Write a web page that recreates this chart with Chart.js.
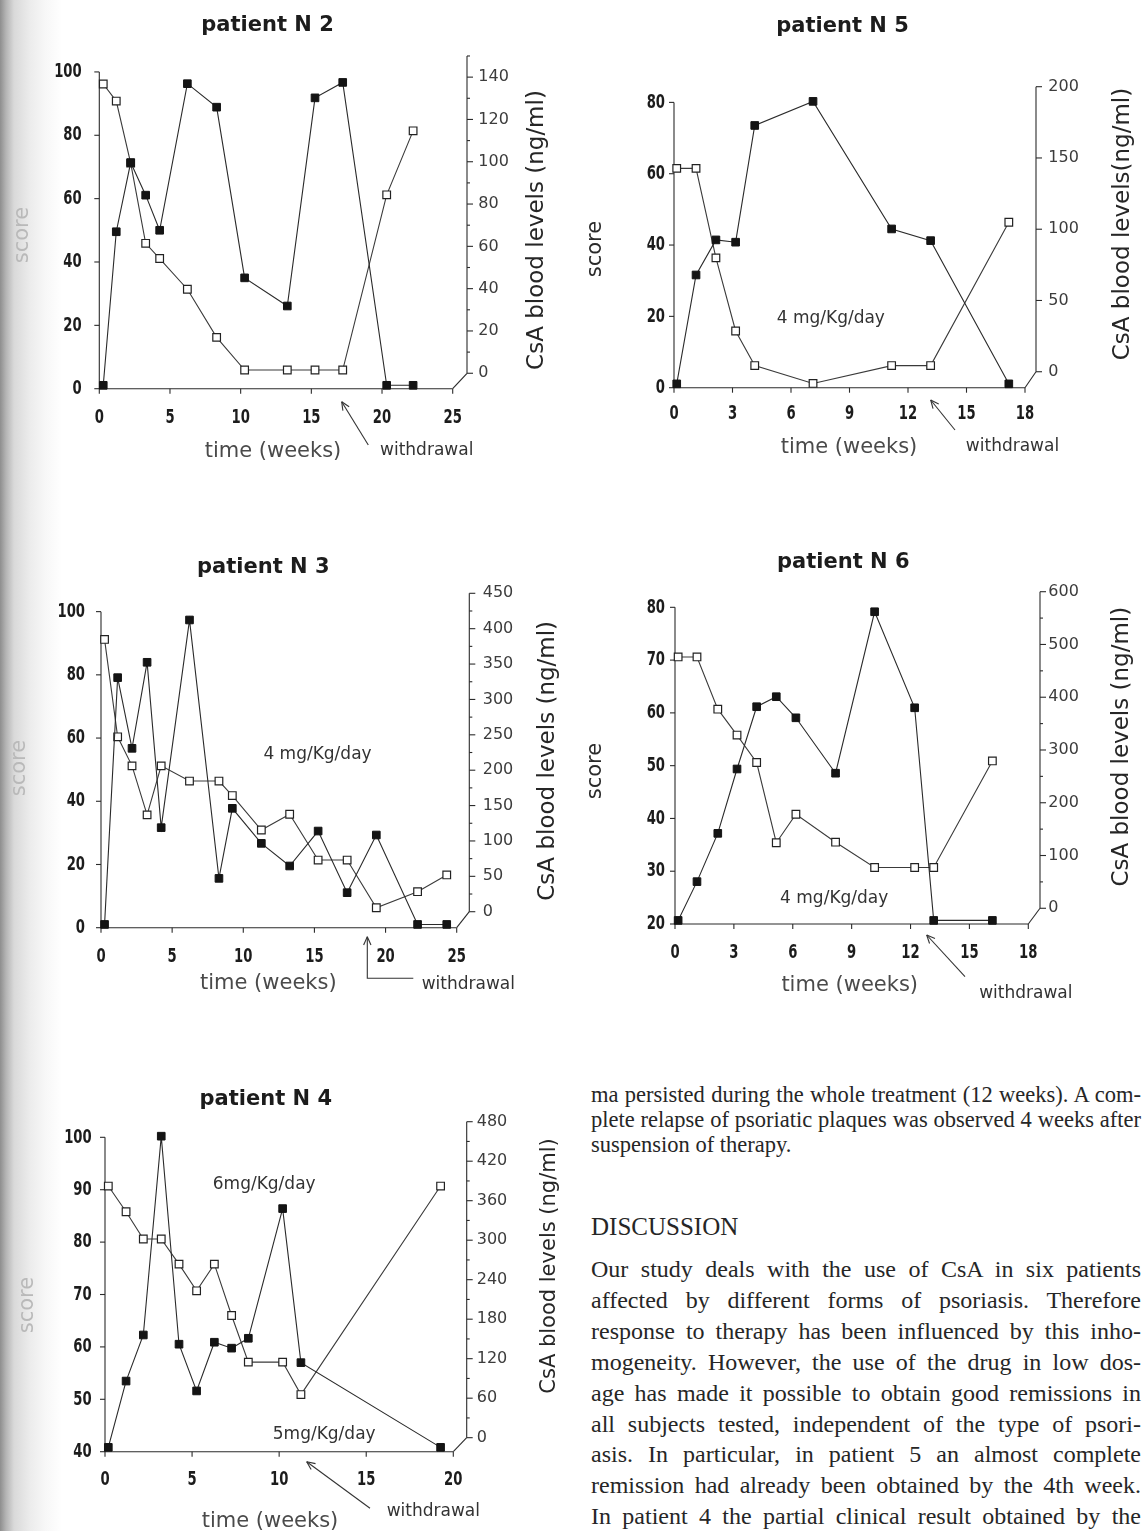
<!DOCTYPE html>
<html>
<head>
<meta charset="utf-8" />
<script src="https://cdn.jsdelivr.net/npm/chart.js@4.4.1/dist/chart.umd.min.js"></script>
<style>
body { margin: 0; width: 1146px; height: 1531px; background: #fff; position: relative; overflow: hidden; }
.shade { position: absolute; left: 0; top: 0; width: 62px; height: 1531px;
  background: linear-gradient(to right, #8e8e8e 0px, #b4b4b4 6px, #d9d9d9 14px, #ececec 30px, #f7f7f7 45px, #fff 62px); }
canvas { position: absolute; }
.txt { position: absolute; left: 591px; width: 550px; font-family: 'Liberation Serif', 'Times New Roman', serif; color: #262626; }
.txt div { white-space: nowrap; }
.j { text-align: justify; text-align-last: justify; white-space: normal !important; }
</style>
</head>
<body>
<div class="shade"></div>
<canvas id="n2" width="580" height="470" style="left:0;top:0"></canvas>
<canvas id="n5" width="571" height="470" style="left:575px;top:0"></canvas>
<canvas id="n3" width="580" height="470" style="left:0;top:540px"></canvas>
<canvas id="n6" width="571" height="470" style="left:575px;top:540px"></canvas>
<canvas id="n4" width="580" height="461" style="left:0;top:1070px"></canvas>

<div class="txt" style="top:1082px; font-size:22.5px; line-height:25px">
	<div class="j">ma persisted during the whole treatment (12 weeks). A com-</div>
	<div class="j">plete relapse of psoriatic plaques was observed 4 weeks after</div>
	<div>suspension of therapy.</div>
</div>
<div class="txt" style="top:1212px; font-size:25px; line-height:30px">DISCUSSION</div>
<div class="txt" style="top:1254px; font-size:24px; line-height:30.9px">
	<div class="j">Our study deals with the use of CsA in six patients</div>
	<div class="j">affected by different forms of psoriasis. Therefore</div>
	<div class="j">response to therapy has been influenced by this inho-</div>
	<div class="j">mogeneity. However, the use of the drug in low dos-</div>
	<div class="j">age has made it possible to obtain good remissions in</div>
	<div class="j">all subjects tested, independent of the type of psori-</div>
	<div class="j">asis. In particular, in patient 5 an almost complete</div>
	<div class="j">remission had already been obtained by the 4th week.</div>
	<div class="j">In patient 4 the partial clinical result obtained by the</div>
</div>

<script>
// patient N 2
const n2Weeks = [0.28, 1.2, 2.22, 3.28, 4.27, 6.23, 8.3, 10.28, 13.3, 15.26, 17.22, 20.33, 22.2];
const n2Score = [96.2, 90.8, 71.2, 45.9, 41.1, 31.4, 16.2, 5.9, 5.9, 5.9, 5.9, 61.2, 81.4];
const n2CsA = [-5.7, 66.9, 99.6, 84.2, 67.6, 136.9, 125.8, 45.1, 31.8, 130.2, 137.5, -5.7, -5.7];
const n2WeekTicks = [0, 5, 10, 15, 20, 25];
const n2ScoreTicks = [0, 20, 40, 60, 80, 100];
const n2CsATicks = [0, 20, 40, 60, 80, 100, 120, 140];
const n2CsAMinor = [10, 30, 50, 70, 90, 110, 130, 150];

// patient N 5
const n5Weeks = [0.14, 1.13, 2.15, 3.16, 4.14, 7.13, 11.16, 13.16, 17.17];
const n5Score = [61.5, 61.5, 36.4, 15.9, 6.2, 1.2, 6.2, 6.2, 46.4];
const n5CsA = [-8.5, 67.9, 92.5, 90.9, 172.8, 189.7, 100.2, 92, -8.5];
const n5WeekTicks = [0, 3, 6, 9, 12, 15, 18];
const n5ScoreTicks = [0, 20, 40, 60, 80];
const n5CsATicks = [0, 50, 100, 150, 200];
const n5CsAMinor = [];

// patient N 3
const n3Weeks = [0.25, 1.17, 2.18, 3.24, 4.23, 6.22, 8.29, 9.23, 11.27, 13.26, 15.26, 17.3, 19.35, 22.25, 24.3];
const n3Score = [91.2, 60.4, 51.2, 35.7, 51.2, 46.4, 46.4, 41.8, 30.9, 35.9, 21.4, 21.4, 6.3, 11.4, 16.7];
const n3CsA = [-18, 330.8, 230.9, 352.5, 118.8, 412.3, 47.1, 146.1, 96.6, 64.6, 114, 26.9, 108.4, -18, -18];
const n3WeekTicks = [0, 5, 10, 15, 20, 25];
const n3ScoreTicks = [0, 20, 40, 60, 80, 100];
const n3CsATicks = [0, 50, 100, 150, 200, 250, 300, 350, 400, 450];
const n3CsAMinor = [25, 75, 125, 175, 225, 275, 325, 375, 425];

// patient N 6
const n6Weeks = [0.16, 1.12, 2.18, 3.16, 4.16, 5.16, 6.16, 8.18, 10.17, 12.21, 13.18, 16.17];
const n6Score = [70.6, 70.6, 60.7, 55.8, 50.6, 35.4, 40.8, 35.5, 30.7, 30.7, 30.7, 50.9];
const n6CsA = [-23, 50.5, 142, 264, 382, 401, 361, 256, 562, 380, -23, -23];
const n6WeekTicks = [0, 3, 6, 9, 12, 15, 18];
const n6ScoreTicks = [20, 30, 40, 50, 60, 70, 80];
const n6CsATicks = [0, 100, 200, 300, 400, 500, 600];
const n6CsAMinor = [50, 150, 250, 350, 450, 550];

// patient N 4
const n4Weeks = [0.19, 1.21, 2.2, 3.23, 4.25, 5.26, 6.28, 7.27, 8.23, 10.2, 11.25, 19.27];
const n4Score = [90.7, 85.8, 80.6, 80.6, 75.8, 70.7, 75.8, 66, 57.1, 57.1, 50.9, 90.7];
const n4CsA = [-14.7, 86, 156, 458, 142, 71, 145, 136, 151, 348, 114, -14.7];
const n4WeekTicks = [0, 5, 10, 15, 20];
const n4ScoreTicks = [40, 50, 60, 70, 80, 90, 100];
const n4CsATicks = [0, 60, 120, 180, 240, 300, 360, 420, 480];
const n4CsAMinor = [30, 90, 150, 210, 270, 330, 390, 450];

const thinTick = { family: "'DejaVu Sans', sans-serif", size: 16 };

function seg(ctx, x1, y1, x2, y2) {
	ctx.beginPath(); ctx.moveTo(x1, y1); ctx.lineTo(x2, y2); ctx.stroke();
}

function arrow(ctx, pts) {
	ctx.beginPath();
	ctx.moveTo(pts[0][0], pts[0][1]);
	pts.slice(1).forEach(p => ctx.lineTo(p[0], p[1]));
	ctx.stroke();
	const [tx, ty] = pts[pts.length - 1], [px, py] = pts[pts.length - 2];
	const ang = Math.atan2(ty - py, tx - px);
	for (const s of [-1, 1]) {
		seg(ctx, tx, ty, tx - 9 * Math.cos(ang + s * 0.42), ty - 9 * Math.sin(ang + s * 0.42));
	}
}

function vtext(ctx, txt, x, y) {
	ctx.save();
	ctx.translate(x, y);
	ctx.rotate(-Math.PI / 2);
	ctx.textAlign = 'center';
	ctx.textBaseline = 'middle';
	ctx.fillText(txt, 0, 0);
	ctx.restore();
}

// narrow bold numbers, like the old plotter font
function narrowNum(ctx, txt, x, y) {
	ctx.save();
	ctx.translate(x, y);
	ctx.scale(0.66, 1);
	ctx.fillText(txt, 0, 0);
	ctx.restore();
}

function paperArt(t, L) {
	return {
		id: 'paperArt',
		beforeDatasetsDraw(chart) {
			const {ctx, chartArea: a} = chart;
			const {x, y, y2} = chart.scales;
			const b = a.bottom;
			ctx.save();
			ctx.strokeStyle = '#2b2b2b';
			ctx.lineWidth = 1.1;
			seg(ctx, a.left, b, a.right, b);
			t.weekTicks.forEach(v => { const px = x.getPixelForValue(v); seg(ctx, px, b, px, b + 5); });
			seg(ctx, a.left, b, a.left, y.getPixelForValue(t.scoreTicks[t.scoreTicks.length - 1]));
			t.scoreTicks.forEach(v => { const py = y.getPixelForValue(v); seg(ctx, a.left - 5, py, a.left, py); });
			const rx = a.right + L.rightGap;
			const r0 = y2.getPixelForValue(0);
			seg(ctx, rx, r0, rx, y2.getPixelForValue(L.csaTop));
			seg(ctx, rx, r0, a.right, b);
			t.csaTicks.forEach(v => { const py = y2.getPixelForValue(v); seg(ctx, rx, py, rx + 6, py); });
			t.csaMinor.forEach(v => { const py = y2.getPixelForValue(v); seg(ctx, rx, py, rx + 3, py); });
			ctx.restore();
		},
		afterDraw(chart) {
			const {ctx, chartArea: a} = chart;
			const {x, y} = chart.scales;
			ctx.save();
			ctx.fillStyle = '#1c1c1c';
			ctx.font = "bold 20px 'DejaVu Sans'";
			ctx.textBaseline = 'middle';
			ctx.textAlign = 'right';
			t.scoreTicks.forEach(v => narrowNum(ctx, String(v), a.left - L.leftPad, y.getPixelForValue(v)));
			ctx.textAlign = 'center';
			t.weekTicks.forEach(v => narrowNum(ctx, String(v), x.getPixelForValue(v), a.bottom + L.xLabOff));

			ctx.font = "bold 21px 'DejaVu Sans'";
			ctx.textBaseline = 'alphabetic';
			ctx.fillText(L.title, L.titleX, L.titleY);

			ctx.textBaseline = 'middle';
			ctx.font = "21px 'DejaVu Sans'";
			ctx.fillStyle = '#4a4a4a';
			ctx.fillText('time (weeks)', L.timeX, L.timeY);

			ctx.font = "17px 'DejaVu Sans'";
			ctx.fillStyle = '#333';
			ctx.fillText('withdrawal', L.wdX, L.wdY);
			L.doses.forEach(d => ctx.fillText(d.text, d.x, d.y));

			ctx.font = "21px 'DejaVu Sans'";
			ctx.fillStyle = L.scoreFaded ? '#b9b9b9' : '#2a2a2a';
			vtext(ctx, 'score', L.scoreX, L.scoreY);

			ctx.font = L.csaSize + "px 'DejaVu Sans'";
			ctx.fillStyle = '#262626';
			vtext(ctx, L.csaText, L.csaX, L.csaY);

			ctx.strokeStyle = '#333';
			ctx.lineWidth = 1.1;
			arrow(ctx, L.arrow);
			ctx.restore();
		}
	};
}

function drawPatient(id, t, L) {
	const pts = vals => t.weeks.map((w, i) => ({x: w, y: vals[i]}));
	new Chart(document.getElementById(id), {
		type: 'line',
		data: {
			datasets: [{
				label: 'CsA blood levels',
				data: pts(t.csa),
				yAxisID: 'y2',
				borderColor: '#2a2a2a',
				borderWidth: 1.1,
				pointStyle: 'rect',
				pointRadius: 5.4,
				pointBackgroundColor: '#141414',
				pointBorderColor: '#141414',
				pointBorderWidth: 1,
				clip: false
			}, {
				label: 'score',
				data: pts(t.score),
				yAxisID: 'y',
				borderColor: '#3a3a3a',
				borderWidth: 1.1,
				pointStyle: 'rect',
				pointRadius: 5.4,
				pointBackgroundColor: '#fff',
				pointBorderColor: '#222',
				pointBorderWidth: 1.2,
				clip: false
			}]
		},
		options: {
			responsive: false,
			animation: false,
			devicePixelRatio: 1,
			events: [],
			layout: { padding: { top: L.padTop, left: 0, right: 0, bottom: 0 }, autoPadding: false },
			plugins: { legend: { display: false }, tooltip: { enabled: false }, title: { display: false } },
			scales: {
				x: {
					type: 'linear', position: 'bottom', min: 0, max: L.xMax, bounds: 'data',
					grid: { display: false, drawTicks: false }, border: { display: false },
					afterBuildTicks: s => { s.ticks = t.weekTicks.map(v => ({value: v})); },
					afterFit: s => { s.height = L.xH; },
					ticks: { display: false }
				},
				y: {
					type: 'linear', position: 'left', min: L.yMin, max: L.yMax, bounds: 'data',
					grid: { display: false, drawTicks: false }, border: { display: false },
					afterBuildTicks: s => { s.ticks = t.scoreTicks.map(v => ({value: v})); },
					afterFit: s => { s.width = L.leftW; },
					ticks: { display: false }
				},
				y2: {
					type: 'linear', position: 'right', min: L.y2Min, max: L.y2Max, bounds: 'data',
					grid: { display: false, drawTicks: false }, border: { display: false },
					afterBuildTicks: s => { s.ticks = t.csaTicks.map(v => ({value: v})); },
					afterFit: s => { s.width = L.rightW; },
					ticks: { padding: L.rightPad, color: '#3c3c3c', font: thinTick, autoSkip: false }
				}
			}
		},
		plugins: [paperArt(t, L)]
	});
}

drawPatient('n2',
	{ weeks: n2Weeks, score: n2Score, csa: n2CsA, weekTicks: n2WeekTicks, scoreTicks: n2ScoreTicks, csaTicks: n2CsATicks, csaMinor: n2CsAMinor },
	{ leftW: 99.3, rightW: 127.3, padTop: 54.5, xH: 81.3, xMax: 25, yMin: 0, yMax: 105.5, y2Min: -7.3, y2Max: 150.7,
	  rightGap: 14.3, leftPad: 17.6, rightPad: 25.6, xLabOff: 28.8, csaTop: 150,
	  title: 'patient N 2', titleX: 267.5, titleY: 30.5, timeX: 273, timeY: 452, wdX: 426.7, wdY: 451,
	  doses: [], scoreX: 23, scoreY: 235, scoreFaded: true,
	  csaText: 'CsA blood levels (ng/ml)', csaX: 536.7, csaY: 230, csaSize: 23,
	  arrow: [[368.3, 445], [341.7, 401.7]] });

drawPatient('n5',
	{ weeks: n5Weeks, score: n5Score, csa: n5CsA, weekTicks: n5WeekTicks, scoreTicks: n5ScoreTicks, csaTicks: n5CsATicks, csaMinor: n5CsAMinor },
	{ leftW: 99, rightW: 121, padTop: 86.7, xH: 82.3, xMax: 18, yMin: 0, yMax: 84.4, y2Min: -11.2, y2Max: 200,
	  rightGap: 11, leftPad: 9, rightPad: 23.3, xLabOff: 26.5, csaTop: 200,
	  title: 'patient N 5', titleX: 267.5, titleY: 31.5, timeX: 274, timeY: 447.5, wdX: 437.5, wdY: 446.7,
	  doses: [{ text: '4 mg/Kg/day', x: 255.8, y: 318.3 }], scoreX: 21, scoreY: 249, scoreFaded: false,
	  csaText: 'CsA blood levels(ng/ml)', csaX: 548.3, csaY: 224, csaSize: 23,
	  arrow: [[380, 430], [355.7, 400]] });

drawPatient('n3',
	{ weeks: n3Weeks, score: n3Score, csa: n3CsA, weekTicks: n3WeekTicks, scoreTicks: n3ScoreTicks, csaTicks: n3CsATicks, csaMinor: n3CsAMinor },
	{ leftW: 101, rightW: 123.3, padTop: 53.3, xH: 82.3, xMax: 25, yMin: 0, yMax: 105.8, y2Min: -22.6, y2Max: 450,
	  rightGap: 12.6, leftPad: 16, rightPad: 26, xLabOff: 29, csaTop: 450,
	  title: 'patient N 3', titleX: 263.3, titleY: 33.3, timeX: 268.3, timeY: 444, wdX: 468.3, wdY: 445,
	  doses: [{ text: '4 mg/Kg/day', x: 317.5, y: 214.3 }], scoreX: 20, scoreY: 228, scoreFaded: true,
	  csaText: 'CsA blood levels (ng/ml)', csaX: 548.3, csaY: 220.8, csaSize: 23,
	  arrow: [[413.3, 438.3], [367.3, 438.3], [367.3, 396.7]] });

drawPatient('n6',
	{ weeks: n6Weeks, score: n6Score, csa: n6CsA, weekTicks: n6WeekTicks, scoreTicks: n6ScoreTicks, csaTicks: n6CsATicks, csaMinor: n6CsAMinor },
	{ leftW: 100, rightW: 117.7, padTop: 51.7, xH: 86, xMax: 18, yMin: 20, yMax: 82.96, y2Min: -29.8, y2Max: 600,
	  rightGap: 11.7, leftPad: 10, rightPad: 20, xLabOff: 28.5, csaTop: 600,
	  title: 'patient N 6', titleX: 268.3, titleY: 28.3, timeX: 274.7, timeY: 446, wdX: 450.8, wdY: 453.3,
	  doses: [{ text: '4 mg/Kg/day', x: 259.2, y: 358.3 }], scoreX: 21, scoreY: 231, scoreFaded: false,
	  csaText: 'CsA blood levels (ng/ml)', csaX: 546.7, csaY: 206.7, csaSize: 23,
	  arrow: [[390, 436.7], [351.7, 395]] });

drawPatient('n4',
	{ weeks: n4Weeks, score: n4Score, csa: n4CsA, weekTicks: n4WeekTicks, scoreTicks: n4ScoreTicks, csaTicks: n4CsATicks, csaMinor: n4CsAMinor },
	{ leftW: 105, rightW: 126.7, padTop: 51.7, xH: 79.3, xMax: 20, yMin: 40, yMax: 102.98, y2Min: -21.3, y2Max: 480,
	  rightGap: 13.4, leftPad: 13.3, rightPad: 23.4, xLabOff: 28.3, csaTop: 480,
	  title: 'patient N 4', titleX: 265.8, titleY: 35, timeX: 270, timeY: 451.3, wdX: 433.3, wdY: 441.7,
	  doses: [{ text: '6mg/Kg/day', x: 264.2, y: 115 }, { text: '5mg/Kg/day', x: 324.2, y: 365 }],
	  scoreX: 28, scoreY: 235, scoreFaded: true,
	  csaText: 'CsA blood levels (ng/ml)', csaX: 550, csaY: 196, csaSize: 21,
	  arrow: [[370, 438.3], [306.7, 391.7]] });
</script>
</body>
</html>
